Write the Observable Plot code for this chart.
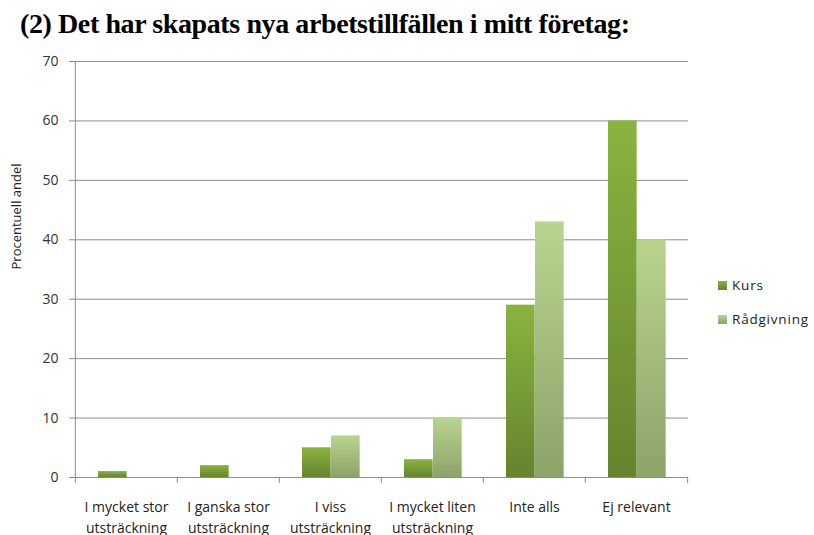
<!DOCTYPE html>
<html>
<head>
<meta charset="utf-8">
<script src="https://cdn.jsdelivr.net/npm/d3@7"></script>
<script src="https://cdn.jsdelivr.net/npm/@observablehq/plot@0.6"></script>
<style>
  html, body { margin: 0; padding: 0; background: #fff; }
  #wrap { position: relative; width: 814px; height: 535px; overflow: hidden; }
  #title { position: absolute; left: 20px; top: 9.5px; line-height: 1; font-family: "Liberation Serif", serif; font-weight: bold; font-size: 28px; color: #000; white-space: nowrap; letter-spacing: -0.4px; }
  #chart { position: absolute; left: 0; top: 48px; }
  #legend { position: absolute; left: 718px; top: 275px; font-family: "Open Sans", sans-serif; font-size: 13.5px; color: #222; letter-spacing: 0.8px; }
  .li { display: flex; align-items: center; height: 20px; margin-bottom: 14px; }
  .sw { width: 9px; height: 9px; margin-right: 5px; }
</style>
</head>
<body>
<div id="wrap">
  <div id="title">(2) Det har skapats nya arbetstillfällen i mitt företag:</div>
  <div id="chart"></div>
  <div id="legend"></div>
</div>
<script>
const categories = ["I mycket stor\nutsträckning", "I ganska stor\nutsträckning", "I viss\nutsträckning", "I mycket liten\nutsträckning", "Inte alls", "Ej relevant"];
const seriesNames = ["Kurs", "Rådgivning"];
const kurs = [1, 2, 5, 3, 29, 60];
const radgivning = [0, 0, 7, 10, 43, 40];
const yTicks = [0, 10, 20, 30, 40, 50, 60, 70];
const yLabel = "Procentuell andel";

const rows = categories.flatMap((c, i) => [
  {category: c, series: seriesNames[0], value: kurs[i]},
  {category: c, series: seriesNames[1], value: radgivning[i]}
]);

const W = 814, H = 487;
const mL = 74, mR = 126, mT = 13, mB = 58;
const bw = (W - mL - mR) / categories.length;
const padL = 23, barW = 29;
const tickLen = 6 / ((H - mT - mB) / 70);

const grads = {
  Kurs: ["#8ab33f", "#65842e"],
  "Rådgivning": ["#b9d48f", "#8ca36a"]
};
const gid = {Kurs: "gKurs", "Rådgivning": "gRad"};

const defsMark = () => {
  const defs = d3.create("svg:defs");
  for (const s of seriesNames) {
    const g = defs.append("linearGradient").attr("id", gid[s]).attr("x1", 0).attr("y1", 0).attr("x2", 0).attr("y2", 1);
    g.append("stop").attr("offset", "0%").attr("stop-color", grads[s][0]);
    g.append("stop").attr("offset", "100%").attr("stop-color", grads[s][1]);
  }
  return defs.node();
};

const font = "'Open Sans', sans-serif";
const gray = "#8c8c8c";

const chart = Plot.plot({
  width: W, height: H,
  marginLeft: mL, marginRight: mR, marginTop: mT, marginBottom: mB,
  style: {fontFamily: font, background: "#fff"},
  x: {domain: categories, padding: 0, axis: null},
  y: {domain: [0, 70], axis: null},
  marks: [
    defsMark,
    Plot.ruleY(yTicks.filter(d => d > 0), {stroke: gray, strokeWidth: 1}),
    Plot.barY(rows.filter(d => d.series === seriesNames[0]), {x: "category", y: "value", fill: "url(#gKurs)", insetLeft: padL, insetRight: bw - padL - barW}),
    Plot.barY(rows.filter(d => d.series === seriesNames[1]), {x: "category", y: "value", fill: "url(#gRad)", insetLeft: padL + barW, insetRight: bw - padL - 2 * barW}),
    Plot.ruleY([0], {stroke: gray}),
    Plot.axisY({ticks: yTicks, tickSize: 5, tickPadding: 11, stroke: gray, fill: "#333", fontSize: 14, letterSpacing: "1px", label: null, strokeOpacity: 1}),
    Plot.ruleX(categories, {x: d => d, dx: -bw / 2, y1: 0, y2: -tickLen, stroke: gray}),
    Plot.ruleX(categories.slice(-1), {x: d => d, dx: bw / 2, y1: 0, y2: -tickLen, stroke: gray}),
    Plot.ruleX(categories.slice(0, 1), {x: d => d, dx: -bw / 2, y1: 0, y2: 70, stroke: gray}),
    Plot.text(categories, {x: d => d, frameAnchor: "bottom", lineAnchor: "top", dy: 19.5, lineHeight: 1.5, fontSize: 14, fill: "#222", letterSpacing: "1.1px"}),
    Plot.text([yLabel], {frameAnchor: "left", dx: -58, rotate: -90, fontSize: 13, fill: "#222", letterSpacing: "0.3px"})
  ]
});
document.getElementById("chart").appendChild(chart);

const legend = d3.select("#legend");
for (const s of seriesNames) {
  const item = legend.append("div").attr("class", "li");
  item.append("div").attr("class", "sw").style("background", `linear-gradient(${grads[s][0]}, ${grads[s][1]})`);
  item.append("span").text(s);
}
</script>
</body>
</html>
